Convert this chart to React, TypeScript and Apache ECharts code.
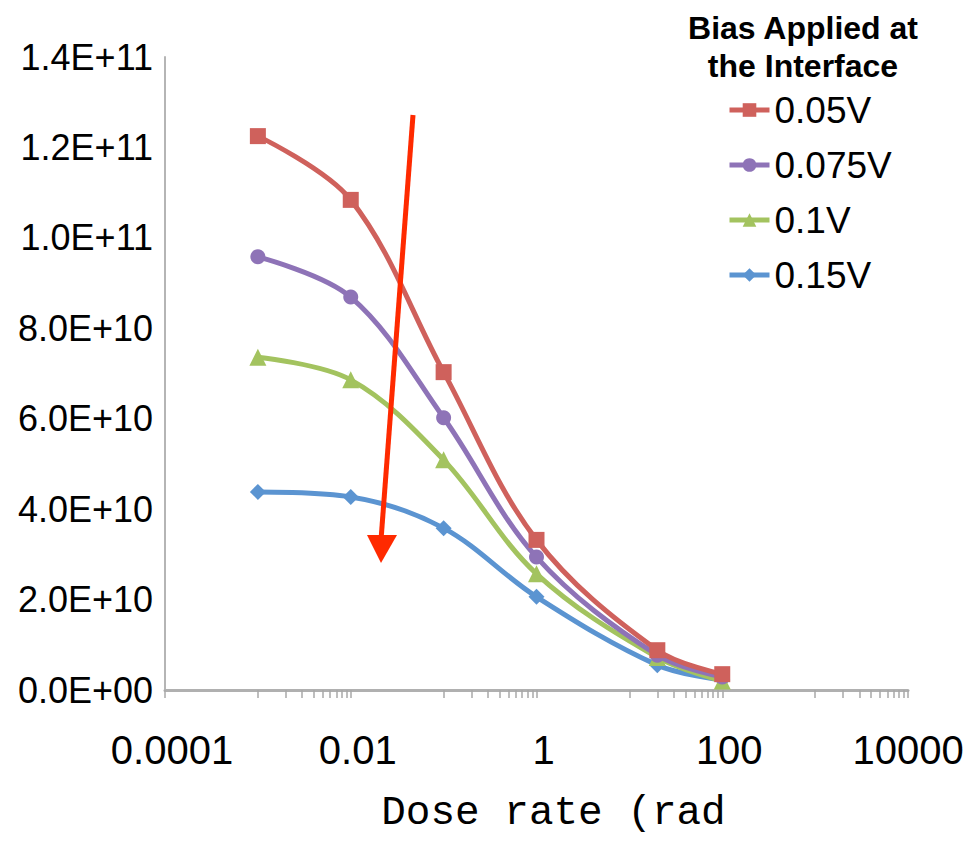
import React, { useEffect, useRef } from "react";
import * as echarts from "echarts";

const doseRates = [0.001, 0.01, 0.1, 1, 20, 100];
const seriesNames = ["0.05V", "0.075V", "0.1V", "0.15V"];
const bias005 = [1.225e11, 1.084e11, 7.03e10, 3.32e10, 8.8e9, 3.5e9];
const bias0075 = [9.58e10, 8.69e10, 6.02e10, 2.94e10, 7.7e9, 2.9e9];
const bias01 = [7.36e10, 6.86e10, 5.09e10, 2.57e10, 7.2e9, 2.0e9];
const bias015 = [4.38e10, 4.27e10, 3.58e10, 2.06e10, 5.5e9, 2.2e9];
const xTickLabels = ["0.0001", "0.01", "1", "100", "10000"];
const seriesColors = ["#cf615c", "#8e73b7", "#a3c35f", "#5b94d1"];
const seriesSymbols = ["rect", "circle", "triangle", "diamond"];
const seriesSymbolSizes = [16, 15, 17, 16];

// minor tick positions in log10 space (decoration of the log axis)
const tickPositions: number[] = (() => {
  const out: number[] = [-4, -2, 0, 2, 4];
  [-3, -1, 1, 3].forEach((e) => {
    for (let k = 1; k <= 9; k++) out.push(e + Math.log10(k));
  });
  return out.sort((a, b) => a - b);
})();

function fmtY(v: number): string {
  if (v === 0) return "0.0E+00";
  const e = Math.floor(Math.log10(v) + 1e-9);
  const m = v / Math.pow(10, e);
  return m.toFixed(1) + "E+" + (e < 10 ? "0" + e : String(e));
}

function fmtX(v: number): string {
  const idx = Math.round(Math.log10(v) / 2) + 2;
  const label = xTickLabels[idx] ?? String(v);
  return idx === xTickLabels.length - 1 ? "{e|" + label + "}" : "{s|" + label + "}";
}

export default function App() {
  const ref = useRef<HTMLDivElement>(null);
  useEffect(() => {
    if (!ref.current) return;
    const chart = echarts.init(ref.current, null, { renderer: "svg" });
    const allSeries = [bias005, bias0075, bias01, bias015];
    const font = "'Liberation Sans', Arial, sans-serif";
    chart.setOption({
      animation: false,
      backgroundColor: "#ffffff",
      title: {
        text: "Bias Applied at\nthe Interface",
        left: 798,
        top: 4,
        textAlign: "center",
        textStyle: {
          fontFamily: font,
          fontWeight: "bold",
          fontSize: 32,
          lineHeight: 38,
          color: "#000",
        },
      },
      legend: {
        orient: "vertical",
        left: 722,
        top: 85,
        itemWidth: 40,
        itemHeight: 17,
        itemGap: 15,
        data: seriesNames,
        lineStyle: { width: 5 },
        textStyle: {
          fontFamily: font,
          fontSize: 37,
          lineHeight: 40,
          color: "#000",
        },
      },
      grid: {
        left: 165,
        right: 59,
        top: 57,
        bottom: 152,
        containLabel: false,
        outerBoundsMode: "none",
      },
      xAxis: [
        {
          type: "log",
          logBase: 100,
          min: 0.0001,
          max: 10000,
          name: "Dose rate (rad",
          nameLocation: "middle",
          nameGap: 102,
          nameTextStyle: {
            fontFamily: "'Liberation Mono', 'DejaVu Sans Mono', monospace",
            fontSize: 41,
            color: "#000",
            padding: [0, 0, 0, 34],
          },
          axisLine: { show: true, onZero: false, lineStyle: { color: "#b0b0b0", width: 3 } },
          axisTick: { show: false },
          splitLine: { show: false },
          minorTick: { show: false },
          axisLabel: {
            formatter: fmtX,
            fontFamily: font,
            fontSize: 40,
            color: "#000",
            margin: 40,
            showMinLabel: true,
            showMaxLabel: true,
            rich: {
              s: { fontFamily: font, fontSize: 40, color: "#000", padding: [0, 0, 0, 14] },
              e: { fontFamily: font, fontSize: 40, color: "#000", padding: [0, 0, 0, 0] },
            },
          },
        },
        {
          type: "value",
          min: -4,
          max: 4,
          position: "bottom",
          axisLine: { show: false, onZero: false },
          axisLabel: { show: false },
          splitLine: { show: false },
          axisTick: {
            show: true,
            length: 8,
            customValues: tickPositions,
            lineStyle: { color: "#a8a8a8", width: 1.5 },
          },
        },
      ],
      yAxis: {
        type: "value",
        min: 0,
        max: 1.4e11,
        interval: 2e10,
        axisLine: { show: true, onZero: false, lineStyle: { color: "#b5b5b5", width: 2 } },
        axisTick: { show: false },
        splitLine: { show: false },
        axisLabel: {
          formatter: fmtY,
          fontFamily: font,
          fontSize: 36,
          color: "#000",
          margin: 12,
        },
      },
      series: allSeries.map((vals, i) => ({
        name: seriesNames[i],
        type: "line",
        xAxisIndex: 0,
        data: doseRates.map((x, j) => [x, vals[j]]),
        smooth: 0.35,
        symbol: seriesSymbols[i],
        symbolSize: seriesSymbolSizes[i],
        showAllSymbol: true,
        color: seriesColors[i],
        lineStyle: { width: 5, color: seriesColors[i] },
        itemStyle: { color: seriesColors[i] },
        z: 10 - i,
      })),
      graphic: [
        {
          type: "line",
          shape: { x1: 413, y1: 115, x2: 381, y2: 540 },
          style: { stroke: "#ff2a00", lineWidth: 5 },
          z: 100,
        },
        {
          type: "polygon",
          shape: { points: [[367, 535], [397, 535], [381, 563]] },
          style: { fill: "#ff2a00" },
          z: 100,
        },
      ],
    });
    return () => chart.dispose();
  }, []);
  return (
    <div
      ref={ref}
      style={{ position: "fixed", left: 0, top: 0, width: 967, height: 842 }}
    />
  );
}
